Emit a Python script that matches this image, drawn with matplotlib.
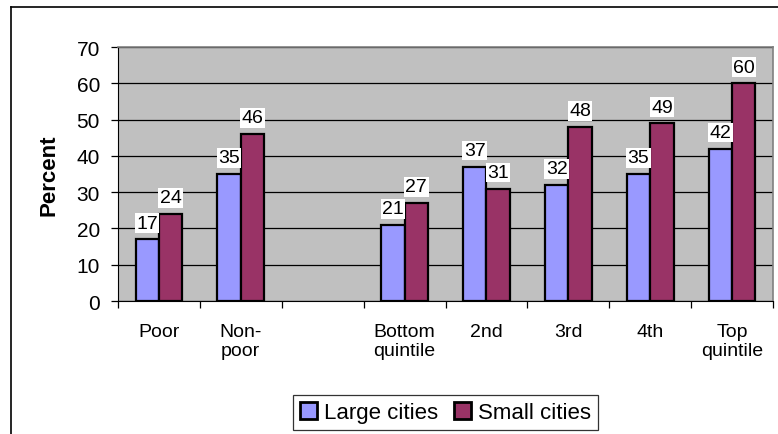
import matplotlib
matplotlib.use("Agg")
import matplotlib.pyplot as plt
from matplotlib.lines import Line2D
import numpy as np

plt.rcParams['font.family'] = ['Liberation Sans', 'DejaVu Sans']

categories = ['Poor', 'Non-\npoor', '', 'Bottom\nquintile', '2nd', '3rd', '4th', 'Top\nquintile']
large_cities = [17, 35, None, 21, 37, 32, 35, 42]
small_cities = [24, 46, None, 27, 31, 48, 49, 60]

large_color = '#9999FF'
small_color = '#993366'

fig = plt.figure(figsize=(7.78, 4.35), dpi=100)
ax = fig.add_axes([118 / 778, 1 - 302 / 435, (773 - 118) / 778, (302 - 48) / 435])
ax.set_facecolor('#C0C0C0')

x = np.arange(len(categories))
w = 0.286

def draw_series(vals, offset, color, label):
    xs = [xi + offset for xi, v in zip(x, vals) if v is not None]
    hs = [v for v in vals if v is not None]
    bars = ax.bar(xs, hs, width=w, color=color, edgecolor='black', linewidth=1.6,
                  label=label, zorder=3)
    for b, v in zip(bars, hs):
        ax.annotate(str(v), (b.get_x() + b.get_width() / 2, v), xytext=(0, 5.5),
                    textcoords='offset points', ha='center', va='bottom', fontsize=14,
                    bbox=dict(facecolor='white', edgecolor='none', pad=1.0), zorder=4)

draw_series(large_cities, -w / 2, large_color, 'Large cities')
draw_series(small_cities, w / 2, small_color, 'Small cities')

ax.set_xlim(-0.5, len(categories) - 0.5)
ax.set_ylim(0, 70)
ax.set_yticks(range(0, 71, 10))
ax.yaxis.grid(True, color='black', linewidth=0.9, zorder=1)
ax.set_axisbelow(True)
ax.tick_params(axis='y', labelsize=15, length=5, width=0.9, color='black', pad=8)

ax.set_xticks(x)
ax.set_xticklabels(categories, fontsize=14, linespacing=1.15, va='top')
ax.tick_params(axis='x', length=0, pad=16)
ax.set_xticks(np.arange(-0.5, len(categories), 1), minor=True)
ax.tick_params(axis='x', which='minor', length=5, width=0.9, color='black')

for side in ['top', 'right']:
    ax.spines[side].set_color('#808080')
    ax.spines[side].set_linewidth(1.2)
ax.spines['left'].set_color('black')
ax.spines['bottom'].set_color('black')

ax.set_ylabel('Percent', fontsize=16, fontweight='bold', labelpad=12)

leg = ax.legend(loc='upper center', bbox_to_anchor=(0.5, -0.372), ncol=2, fontsize=16,
                frameon=True, fancybox=False, edgecolor='black', handlelength=0.75,
                handleheight=0.75, handletextpad=0.33, columnspacing=0.7,
                borderpad=0.3, borderaxespad=0)
leg.get_frame().set_linewidth(0.9)
for h in leg.legend_handles:
    h.set_linewidth(2)

# chart area frame (top and left edges)
fig.add_artist(Line2D([11 / 778, 1], [1 - 8 / 435, 1 - 8 / 435], color='black', linewidth=1.2))
fig.add_artist(Line2D([11 / 778, 11 / 778], [0, 1 - 8 / 435], color='black', linewidth=1.2))

fig.savefig('out.png', dpi=100)
